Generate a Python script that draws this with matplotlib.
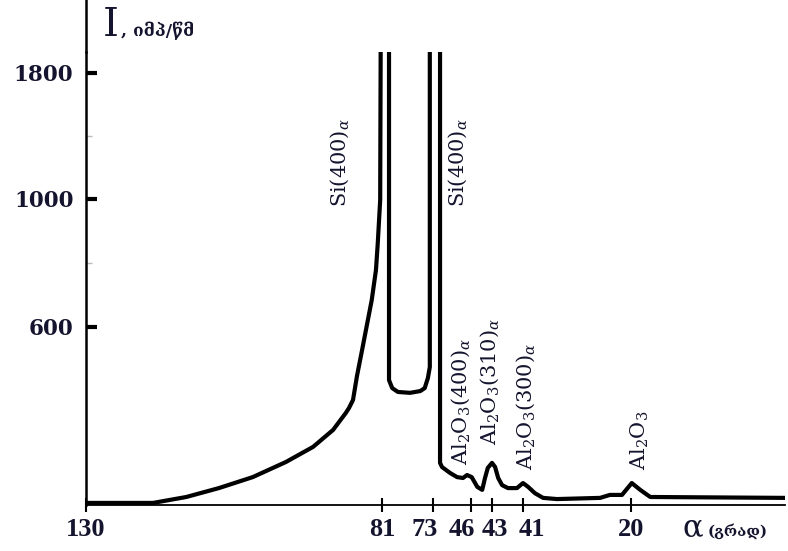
import numpy as np
import matplotlib.pyplot as plt
import matplotlib.transforms as mtransforms

plt.rcParams['font.family'] = ['DejaVu Serif', 'DejaVu Sans']
plt.rcParams['mathtext.fontset'] = 'dejavuserif'

# Diffraction pattern (angle in degrees, intensity in imp/s)
angle = [130, 118.9, 113.4, 108.0, 102.4, 96.9, 92.4, 89.1, 87.0, 86.46,
         85.8, 85.14, 84.3, 83.5, 82.7, 82.0, 81.7, 81.3, 81.2, 79.9, 79.9,
         79.4, 78.5, 76.6, 75.0, 74.3, 73.8, 73.5, 73.5, 68.0, 68.0, 66.6,
         60.9, 55.9, 51.7, 48.8, 45.9, 45.1, 44.4, 44.0, 43.6, 43.0, 42.8,
         42.6, 42.35, 41.97, 41.39, 41.0, 40.0, 38.7, 37.1, 34.4, 26.0, 24.1,
         21.75, 19.9, 18.8, 17.5, 0]
intensity = [7, 7, 27, 57, 94, 145, 196, 253, 310, 327, 354, 435, 522, 606,
             684, 778, 862, 997, 2200, 2200, 421, 394, 381, 378, 384, 394, 428,
             465, 2200, 2200, 142, 128, 108, 94, 91, 101, 94, 61, 51, 91, 125,
             142, 128, 91, 67, 57, 57, 74, 61, 40, 24, 20, 24, 34, 34, 74, 51,
             27, 24]

x_ticks = [130, 81, 73, 46, 43, 41, 20]
y_ticks = [600, 1000, 1800]
y_minor = [800, 1400]

peak_labels = [
    (88.0, 975, r"Si(400)$_{\alpha}$"),
    (55.2, 975, r"Si(400)$_{\alpha}$"),
    (53.6, 135, r"Al$_2$O$_3$(400)$_{\alpha}$"),
    (43.3, 202, r"Al$_2$O$_3$(310)$_{\alpha}$"),
    (40.4, 118, r"Al$_2$O$_3$(300)$_{\alpha}$"),
    (18.8, 118, r"Al$_2$O$_3$"),
]

# the original axes are not linear: piecewise scales through the tick marks
ang_pts = np.array([0, 20, 41, 43, 46, 73, 81, 130])
ang_pos = np.array([0, 154, 262, 293, 314, 352, 403, 699])
int_pts = np.array([0, 600, 1000, 1800, 2200])
int_pos = np.array([0, 178, 306, 432, 495])


def x_fwd(a):
    return np.interp(np.asarray(a, float), ang_pts, ang_pos)


def x_inv(p):
    return np.interp(np.asarray(p, float), ang_pos, ang_pts)


def y_fwd(v):
    return np.interp(np.asarray(v, float), int_pts, int_pos)


def y_inv(p):
    return np.interp(np.asarray(p, float), int_pos, int_pts)


ink = '#14142e'
fig = plt.figure(figsize=(7.88, 5.51), dpi=100)
ax = fig.add_axes([86 / 788, 1 - 505 / 551, 699 / 788, 453 / 551])
ax.set_xscale('function', functions=(x_fwd, x_inv))
ax.set_yscale('function', functions=(y_fwd, y_inv))
ax.set_xlim(130, 0)
ax.set_ylim(0, 1933)

ax.plot(angle, intensity, color='black', lw=3, solid_joinstyle='round')

for a, v, s in peak_labels:
    ax.text(a, v, s, rotation=90, ha='center', va='bottom', fontsize=15,
            color=ink)

for side in ['top', 'right']:
    ax.spines[side].set_visible(False)
ax.spines['left'].set_linewidth(1.8)
ax.spines['bottom'].set_linewidth(1.3)
# y axis line runs on above the clipped peaks
ax.plot([0, 0], [1, 1.12], transform=ax.transAxes, color='black', lw=1.8,
        clip_on=False)

ax.set_xticks(x_ticks)
ax.set_xticklabels([str(t) for t in x_ticks])
ax.set_yticks(y_ticks)
ax.set_yticklabels([str(t) for t in y_ticks])
ax.set_yticks(y_minor, minor=True)
ax.xaxis.set_minor_locator(plt.NullLocator())
ax.tick_params(axis='x', direction='inout', length=10, width=1.5, pad=4,
               labelsize=19, labelcolor=ink)
ax.tick_params(axis='y', which='major', direction='in', length=8, width=3,
               pad=9, labelsize=15.5, labelcolor=ink)
ax.tick_params(axis='y', which='minor', direction='in', length=4, width=1,
               color='#bbbbbb')
for lab in ax.get_yticklabels():
    lab.set_fontweight('bold')

# the crowded angle labels sit a little off their ticks, as in the original
shift = {'73': -8, '46': -9, '43': 3, '41': 9}
for lab in ax.get_xticklabels():
    lab.set_family(['Liberation Serif', 'DejaVu Serif'])
    lab.set_fontweight('bold')
    dx = shift.get(lab.get_text(), 0)
    off = mtransforms.ScaledTranslation(dx / 100, 0, fig.dpi_scale_trans)
    lab.set_transform(lab.get_transform() + off)

fig.text(103 / 788, 1 - 36 / 551, "I", fontsize=29, color=ink,
         va='baseline')
fig.text(121 / 788, 1 - 36 / 551, ", იმპ/წმ", fontsize=12.5, color=ink,
         fontweight='bold', va='baseline')
fig.text(682 / 788, 1 - 536 / 551, "α", fontsize=22, color=ink,
         va='baseline')
fig.text(708 / 788, 1 - 536 / 551, "(გრად)", fontsize=11, color=ink,
         fontweight='bold', va='baseline')

fig.savefig('out.png', dpi=100)
